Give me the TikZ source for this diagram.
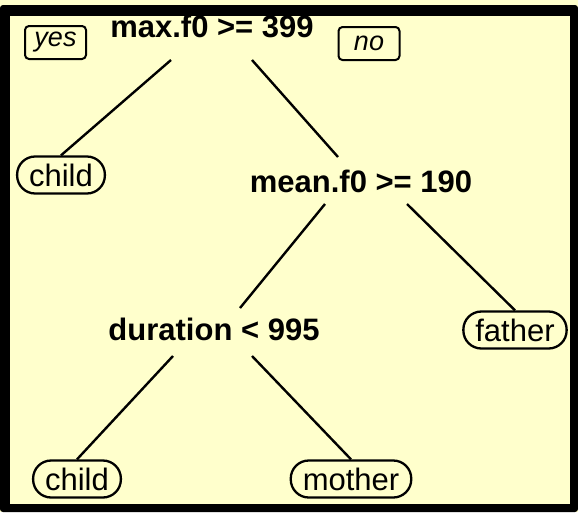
\documentclass[tikz,border=0pt]{standalone}
\usepackage{fontspec}
\setmainfont{Liberation Sans}
\definecolor{paper}{RGB}{255,255,204}
\begin{document}
\begin{tikzpicture}[x=1pt,y=-1pt,
  split/.style={font=\fontsize{31}{36}\selectfont\bfseries, inner sep=0pt},
  leaf/.style={draw, line width=2.3pt, rounded corners=18pt,
    font=\fontsize{31}{36}\selectfont, inner xsep=12pt, inner ysep=6.5pt,
    text height=23pt, text depth=1pt},
  side/.style={draw, line width=2pt, rounded corners=4pt,
    font=\fontsize{27}{32}\selectfont\itshape,
    minimum width=61pt, minimum height=33pt, inner sep=0pt},
  branch/.style={line width=2.4pt}]

% page and heavy frame
\fill[paper] (0,0) rectangle (578,512);
\fill[black, rounded corners=3pt] (0,5) rectangle (578,512);
\fill[paper] (10,16) rectangle (570,504);
\useasboundingbox (0,0) rectangle (578,512);

% split labels
\node[split, anchor=base] (root) at (212,37) {max.f0 >= 399};
\node[split, anchor=base] (mean) at (361,192) {mean.f0 >= 190};
\node[split, anchor=base] (dur)  at (214,340) {duration < 995};

% branch direction hints
\node[side] (yes) at (55.5,42.5) {yes};
\node[side] (no)  at (369,43.5) {no};

% leaves
\node[leaf] (c1) at (61,175)  {child};
\node[leaf] (fa) at (515,330) {father};
\node[leaf] (c2) at (77,479)  {child};
\node[leaf] (mo) at (351,479) {mother};

% branch end points below / above the split labels
\coordinate (rL)  at (171,60);
\coordinate (rR)  at (252,60);
\coordinate (mIn) at (338,157);
\coordinate (mL)  at (325,204);
\coordinate (mR)  at (407,204);
\coordinate (dIn) at (240,308);
\coordinate (dL)  at (173,356);
\coordinate (dR)  at (252,356);

\draw[branch] (rL) -- (c1.north);
\draw[branch] (rR) -- (mIn);
\draw[branch] (mL) -- (dIn);
\draw[branch] (mR) -- (fa.north);
\draw[branch] (dL) -- (c2.north);
\draw[branch] (dR) -- (mo.north);
\end{tikzpicture}
\end{document}
